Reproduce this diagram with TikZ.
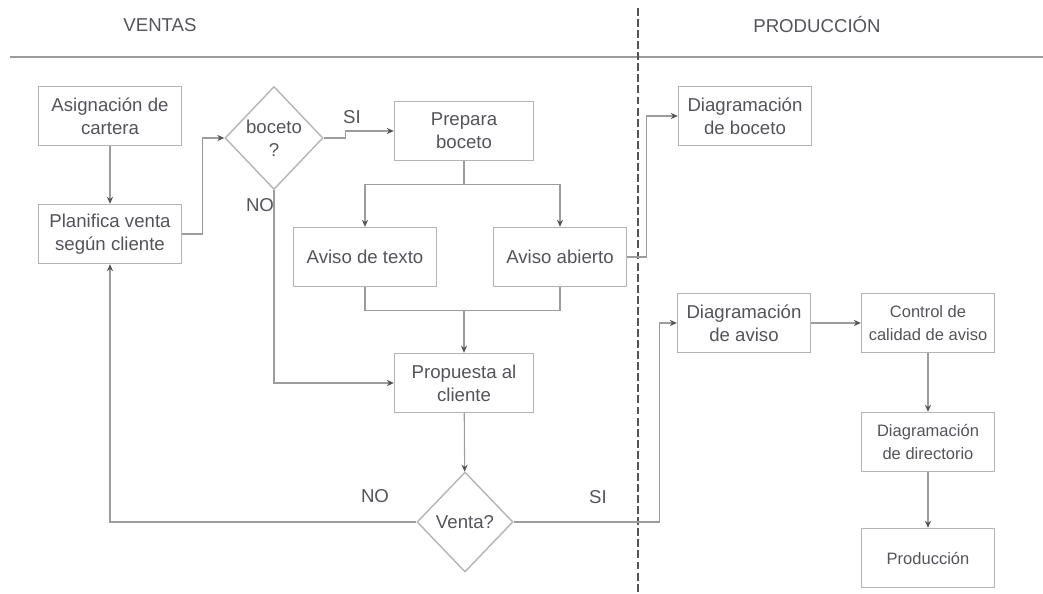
\documentclass[tikz,border=0pt]{standalone}
\usepackage{fontspec}
\setmainfont{Liberation Sans}
\usetikzlibrary{shapes.geometric,arrows.meta,positioning}
\definecolor{tinta}{HTML}{56525A}
\definecolor{borde}{HTML}{B4B4B4}
\definecolor{gris}{HTML}{9C9C9C}

\begin{document}
\begin{tikzpicture}[x=0.2mm,y=-0.2mm,
  font=\fontsize{10.6}{13}\selectfont, text=tinta,
  caja/.style={draw=borde,line width=0.8pt,minimum width=2.86cm,minimum height=1.18cm,align=center,inner sep=2pt},
  cajap/.style={caja,minimum width=2.66cm},
  chica/.style={font=\fontsize{9.4}{13}\selectfont},
  rombo/.style={diamond,draw=borde,line width=0.8pt,minimum width=1.96cm,minimum height=2.06cm,align=center,inner sep=-3pt},
  flecha/.style={draw=gris,line width=0.6pt,-{Stealth[length=4pt,width=3.5pt,color=tinta]}},
  linea/.style={draw=gris,line width=0.6pt}]
\useasboundingbox (0,0) rectangle (1043,594);

% encabezados de las dos areas
\node (ventas) at (160,25) {VENTAS};
\node (produccion) at (817,25) {PRODUCCIÓN};
\draw[gris,line width=1.2pt] (10,57) -- (1043,57);
\draw[tinta,line width=1.1pt,dash pattern=on 4.5pt off 1.8pt] (638,8) -- (638,594);

% ventas
\node[caja] (asignacion) at (110,116) {Asignación de\\cartera};
\node[caja] (planifica) at (110,234) {Planifica venta\\según cliente};
\node[rombo] (boceto) at (274,138) {boceto\\?};
\node[caja,minimum width=2.78cm] (prepara) at (464,131) {Prepara\\boceto};
\node[caja] (texto) at (365,257) {Aviso de texto};
\node[cajap] (abierto) at (560,257) {Aviso abierto};
\node[caja,minimum width=2.78cm] (propuesta) at (464,383) {Propuesta al\\cliente};
\node[rombo,minimum width=1.92cm,minimum height=2.0cm] (venta) at (465,522) {Venta?};

% produccion
\node[cajap] (diagboceto) at (745,116) {Diagramación\\de boceto};
\node[cajap] (diagaviso) at (744,323) {Diagramación\\de aviso};
\node[cajap,chica] (control) at (928,323) {Control de\\calidad de aviso};
\node[cajap,chica] (directorio) at (928,442) {Diagramación\\de directorio};
\node[cajap,chica] (final) at (928,558) {Producción};

% etiquetas
\node (si1) at (352,117) {SI};
\node (no1) at (260,205) {NO};
\node (no2) at (375,496) {NO};
\node (si2) at (598,497) {SI};

% conectores
\draw[flecha] (asignacion) -- (planifica);
\draw[flecha] (planifica.east) -- ++(20,0) |- (boceto.west);
\draw[flecha] (boceto.east) -- ++(22,0) |- (prepara.west);
\draw[linea] (prepara.south) -- ++(0,23) coordinate (rama);
\draw[flecha] (rama) -| (texto.north);
\draw[flecha] (rama) -| (abierto.north);
\draw[linea] (texto.south) -- ++(0,23) coordinate (union) -| (abierto.south);
\draw[flecha] (union -| propuesta.north) -- (propuesta.north);
\draw[flecha] (boceto.south) |- (propuesta.west);
\draw[flecha] (propuesta) -- (venta);
\draw[flecha] (venta.west) -| (planifica.south);
\draw[flecha] (venta.east) -- ++(146,0) |- (diagaviso.west);
\draw[flecha] (abierto.east) -- ++(19,0) |- (diagboceto.west);
\draw[flecha] (diagaviso) -- (control);
\draw[flecha] (control) -- (directorio);
\draw[flecha] (directorio) -- (final);
\end{tikzpicture}
\end{document}
